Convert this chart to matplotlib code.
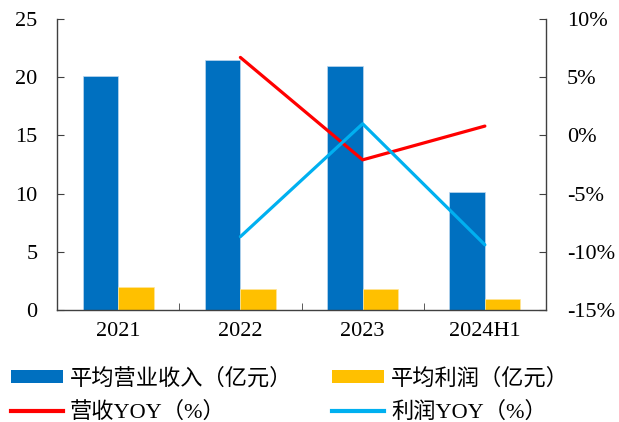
import matplotlib
matplotlib.use("Agg")
import matplotlib.pyplot as plt
import numpy as np
from matplotlib.patches import Patch
from matplotlib.lines import Line2D

plt.rcParams['font.family'] = ['Liberation Serif', 'Noto Sans CJK SC']

categories = ["2021", "2022", "2023", "2024H1"]
avg_revenue = [20.1, 21.45, 21.0, 10.1]
avg_profit = [1.98, 1.78, 1.8, 0.95]
rev_yoy = [None, 6.7, -2.1, 0.8]
profit_yoy = [None, -8.7, 1.0, -9.4]

fig = plt.figure(figsize=(6.19, 4.22), dpi=100)
ax = fig.add_axes([57/619, 112/422, (546-57)/619, (310-19)/422])
ax2 = ax.twinx()

x = np.arange(len(categories))
w = 0.29
ax.bar(x - w/2, avg_revenue, w, color="#0070C0", edgecolor="#BDD7EE", linewidth=0.5, zorder=2)
ax.bar(x + w/2, avg_profit, w, color="#FFC000", edgecolor="#FFE699", linewidth=0.5, zorder=2)

xi = [i for i, v in enumerate(rev_yoy) if v is not None]
ax2.plot(xi, [rev_yoy[i] for i in xi], color="#FF0000", lw=2.3, solid_capstyle='round')
xi = [i for i, v in enumerate(profit_yoy) if v is not None]
ax2.plot(xi, [profit_yoy[i] for i in xi], color="#00B0F0", lw=2.3, solid_capstyle='round')

ax.set_xlim(-0.5, len(categories) - 0.5)
ax.set_ylim(0, 25)
ax.set_yticks(np.arange(0, 26, 5))
ax2.set_ylim(-15, 10)
ax2.set_yticks(np.arange(-15, 11, 5))
ax2.set_yticklabels([f"{v}%" for v in range(-15, 11, 5)])

ax.set_xticks(x)
ax.set_xticklabels(categories)
ax.set_xticks(np.arange(0.5, len(categories) - 0.5, 1), minor=True)
ax.tick_params(axis='x', which='major', length=0, labelsize=16, pad=9)
ax.tick_params(axis='x', which='minor', length=5, direction='in', color='#404040')
ax.tick_params(axis='y', direction='in', length=5, labelsize=16, color='#404040', pad=14)
ax2.tick_params(axis='y', direction='in', length=5, labelsize=16, color='#404040', pad=15)

for a in (ax, ax2):
    a.spines['top'].set_visible(False)
    for s in ('left', 'right', 'bottom'):
        a.spines[s].set_color('#404040')
        a.spines[s].set_linewidth(1.0)
ax.spines['right'].set_visible(False)
ax2.spines['left'].set_visible(False)
ax2.spines['bottom'].set_visible(False)

handles = [
    Patch(facecolor="#0070C0", label="平均营业收入（亿元）"),
    Line2D([0], [0], color="#FF0000", lw=3, label="营收YOY（%）"),
    Patch(facecolor="#FFC000", label="平均利润（亿元）"),
    Line2D([0], [0], color="#00B0F0", lw=3, label="利润YOY（%）"),
]
fig.legend(handles=handles, ncol=2, loc='upper left', bbox_to_anchor=(11/619, 0.128),
           frameon=False, fontsize=16, handlelength=2.34, handleheight=0.55,
           handletextpad=0.32, columnspacing=1.78, labelspacing=0.57,
           borderaxespad=0, borderpad=0)

fig.savefig("out.png", dpi=100)
